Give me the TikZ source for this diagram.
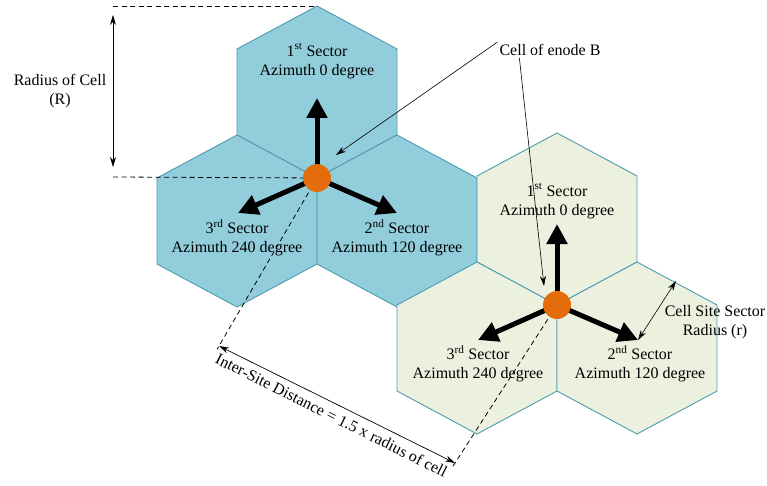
\documentclass[tikz,border=0pt]{standalone}
\usepackage{fontspec}
\setmainfont{Liberation Serif}
\usetikzlibrary{arrows.meta,calc}
\definecolor{cellblue}{HTML}{92CDDC}
\definecolor{cellgreen}{HTML}{EBF1DE}
\definecolor{celledge}{HTML}{4E9BB0}
\definecolor{siteorange}{HTML}{E46C0A}
\begin{document}
\begin{tikzpicture}[x=1pt,y=-1pt,
  hexcell/.style={draw=celledge, line width=0.9pt, line join=miter},
  sectorarrow/.style={line width=5pt, -{Triangle[length=20pt,width=20pt]}},
  sitedot/.style={circle, fill=siteorange, inner sep=0pt, minimum size=28pt},
  dimarrow/.style={line width=0.7pt, {Stealth[length=10pt,width=6pt]}-{Stealth[length=10pt,width=6pt]}},
  callout/.style={line width=0.6pt, -{Stealth[length=10pt,width=6pt]}},
  guide/.style={line width=0.8pt, dashed, dash pattern=on 5pt off 3.5pt},
  label/.style={font=\fontsize{16}{19}\selectfont, align=center, inner sep=2pt}
]
\useasboundingbox (0,0) rectangle (767,486);

% ---------- cluster A (blue) ----------
\begin{scope}[shift={(317,178)}]
  \filldraw[hexcell, fill=cellblue] (0,-172) -- (80,-129) -- (80,-43) -- (0,0) -- (-80,-43) -- (-80,-129) -- cycle;
  \filldraw[hexcell, fill=cellblue] (-80,-43) -- (0,0) -- (0,86) -- (-80,129) -- (-160,86) -- (-160,0) -- cycle;
  \filldraw[hexcell, fill=cellblue] (80,-43) -- (160,0) -- (160,86) -- (80,129) -- (0,86) -- (0,0) -- cycle;
\end{scope}

% ---------- cluster B (green) ----------
\begin{scope}[shift={(557,305)}]
  \filldraw[hexcell, fill=cellgreen] (0,-172) -- (80,-129) -- (80,-43) -- (0,0) -- (-80,-43) -- (-80,-129) -- cycle;
  \filldraw[hexcell, fill=cellgreen] (-80,-43) -- (0,0) -- (0,86) -- (-80,129) -- (-160,86) -- (-160,0) -- cycle;
  \filldraw[hexcell, fill=cellgreen] (80,-43) -- (160,0) -- (160,86) -- (80,129) -- (0,86) -- (0,0) -- cycle;
\end{scope}

% ---------- key points ----------
\coordinate (siteApos) at (317,178);
\coordinate (siteBpos) at (557,305);
\coordinate (topA) at (317,6);
\coordinate (rtop) at (113,6);
\coordinate (rbot) at (113,177);
\coordinate (tipA1) at (317,98);
\coordinate (tipA2) at (397,213);
\coordinate (tipA3) at (238,213);
\coordinate (tipB1) at (557,224);
\coordinate (tipB2) at (638,340);
\coordinate (tipB3) at (478,340);
\coordinate (isdA) at (219,346);
\coordinate (isdB) at (455,463);
\coordinate (csr) at (676,281);
\coordinate (calloutA) at (336,155);
\coordinate (calloutB) at (544,286);

% ---------- radius of cell ----------
\draw[guide] (rtop) -- (topA);
\draw[guide] (rbot) -- (siteApos);
\draw[dimarrow, shorten <=9pt, shorten >=10pt] (rtop) -- (rbot);
\node[label] (radR) at (60,91) {Radius of Cell\\(R)};

% ---------- inter-site distance ----------
\draw[guide] (siteApos) -- ($(siteApos)!1.02!(isdA)$);
\draw[guide] (siteBpos) -- ($(siteBpos)!1.02!(isdB)$);
\draw[dimarrow] (isdA) -- (isdB)
  node[label, midway, rotate=-26.6, anchor=north, inner sep=6pt] (isdtext) {Inter-Site Distance = 1.5 x radius of cell};

% ---------- sector arrows ----------
\draw[sectorarrow] (siteApos) -- (tipA1);
\draw[sectorarrow] (siteApos) -- (tipA2);
\draw[sectorarrow] (siteApos) -- (tipA3);
\draw[sectorarrow] (siteBpos) -- (tipB1);
\draw[sectorarrow] (siteBpos) -- (tipB2);
\draw[sectorarrow] (siteBpos) -- (tipB3);

\node[sitedot] (siteA) at (siteApos) {};
\node[sitedot] (siteB) at (siteBpos) {};

% ---------- sector labels ----------
\node[label] (A1) at (317,61) {1\textsuperscript{st} Sector\\Azimuth 0 degree};
\node[label] (A3) at (237,238) {3\textsuperscript{rd} Sector\\Azimuth 240 degree};
\node[label] (A2) at (397,238) {2\textsuperscript{nd} Sector\\Azimuth 120 degree};
\node[label] (B1) at (557,201) {1\textsuperscript{st} Sector\\Azimuth 0 degree};
\node[label] (B3) at (478,364) {3\textsuperscript{rd} Sector\\Azimuth 240 degree};
\node[label] (B2) at (640,364) {2\textsuperscript{nd} Sector\\Azimuth 120 degree};

% ---------- cell of enode B ----------
\node[label] (enodeB) at (550,50) {Cell of enode B};
\draw[callout] (enodeB.north west) -- (calloutA);
\draw[callout] ([xshift=22pt]enodeB.south west) -- (calloutB);

% ---------- cell site sector radius ----------
\draw[dimarrow, line width=0.6pt] (csr) -- (tipB2);
\node[label] (csrtext) at (715,322) {Cell Site Sector\\Radius (r)};
\end{tikzpicture}
\end{document}
